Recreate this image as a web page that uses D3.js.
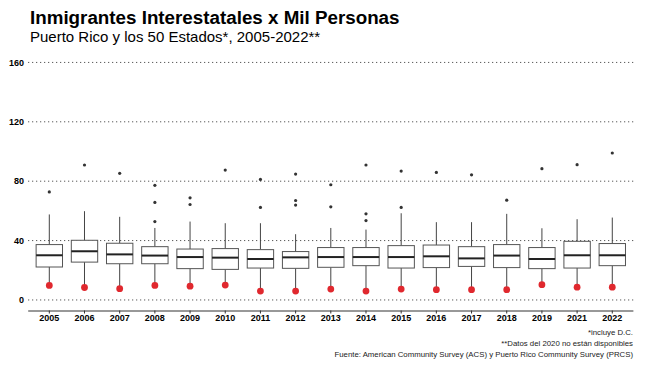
<!DOCTYPE html>
<html>
<head>
<meta charset="utf-8">
<script src="https://cdn.jsdelivr.net/npm/d3@7"></script>
<style>
  body { margin: 0; background: #fff; }
  svg { font-family: "Liberation Sans", Arial, Helvetica, sans-serif; }
</style>
</head>
<body>
<svg width="648" height="378"></svg>
<script>
var years = ["2005","2006","2007","2008","2009","2010","2011","2012","2013","2014","2015","2016","2017","2018","2019","2021","2022"];
var q1 =        [22.2, 25.5, 24.4, 24.4, 21.1, 20.6, 21.5, 21.3, 22.0, 23.1, 21.5, 21.8, 22.6, 21.8, 21.1, 21.5, 23.1];
var medians =   [30.1, 32.8, 30.7, 29.9, 28.9, 28.5, 27.6, 28.7, 28.9, 28.9, 28.9, 29.4, 28.0, 29.9, 27.6, 30.1, 30.1];
var q3 =        [37.3, 40.2, 38.2, 35.9, 34.3, 34.6, 33.9, 32.6, 35.3, 35.3, 36.6, 37.0, 35.9, 37.3, 35.3, 39.5, 38.0];
var whiskerHi = [57.6, 59.8, 56.0, 48.5, 52.8, 51.7, 51.7, 44.3, 48.5, 47.4, 58.4, 52.4, 52.4, 58.0, 48.3, 54.4, 55.5];
var puertoRico = [9.8, 8.4, 7.6, 9.8, 9.3, 10.0, 6.0, 6.0, 7.3, 6.0, 7.3, 6.9, 6.9, 6.9, 10.3, 8.6, 8.6];
var outliers = [
  [72.8], [90.9], [85.3], [52.8, 65.7, 77.2], [64.3, 68.8], [87.5],
  [62.3, 81.2], [63.9, 67.0, 84.8], [62.7, 77.6], [53.5, 58.0, 90.9],
  [62.3, 86.8], [85.9], [84.3], [67.2], [88.4], [91.1], [99.0]
];
var yTicks = [0, 40, 80, 120, 160];
var notes = ["*incluye D.C.", "**Datos del 2020 no están disponibles",
  "Fuente: American Community Survey (ACS) y Puerto Rico Community Survey (PRCS)"];

var svg = d3.select("svg");
var panelLeft = 28.2, panelRight = 633.4, panelTop = 55, panelBottom = 310.5;

// ggplot style: 0.6 unit expansion on each side of the discrete axis
var step = (panelRight - panelLeft) / (years.length + 0.2);
var x = d3.scaleBand()
  .domain(years)
  .range([panelLeft + 0.1 * step, panelRight - 0.1 * step]);

var y = d3.scaleLinear().domain([-7.1, 165]).range([panelBottom, panelTop]);

// title
svg.append("text").attr("x", 30).attr("y", 23.5)
  .style("font-size", "18.8px").style("font-weight", "bold")
  .text("Inmigrantes Interestatales x Mil Personas");
svg.append("text").attr("x", 30).attr("y", 41.5)
  .style("font-size", "15px")
  .text("Puerto Rico y los 50 Estados*, 2005-2022**");

// gridlines
svg.append("g").selectAll("line")
  .data(yTicks).enter().append("line")
    .attr("x1", panelLeft).attr("x2", 636)
    .attr("y1", function(d) { return y(d); })
    .attr("y2", function(d) { return y(d); })
    .attr("stroke", "#333").attr("stroke-width", 1)
    .attr("stroke-dasharray", "1,3");

svg.append("g").selectAll("text")
  .data(yTicks).enter().append("text")
    .attr("x", 24).attr("y", function(d) { return y(d) + 3.2; })
    .attr("text-anchor", "end")
    .style("font-size", "9px").style("font-weight", "bold")
    .text(function(d) { return d; });

// x axis
var xAxis = svg.append("g")
  .attr("transform", "translate(0," + panelBottom + ")")
  .call(d3.axisBottom(x).tickSize(3).tickSizeOuter(0));
xAxis.select(".domain").attr("stroke", "#333").attr("d", "M" + panelLeft + ",0.5H" + panelRight);
xAxis.selectAll(".tick line").attr("stroke", "#333");
xAxis.selectAll("text")
  .attr("dy", "0.45em")
  .style("font-size", "9px").style("font-weight", "bold")
  .style("font-family", "'Liberation Sans', Arial, sans-serif")
  .attr("fill", "#000");

// boxes
var bw = x.bandwidth() * 0.75;
var boxes = svg.append("g").selectAll("g")
  .data(years).enter().append("g")
    .attr("transform", function(d) { return "translate(" + (x(d) + x.bandwidth() / 2) + ",0)"; });

boxes.append("line")
  .attr("y1", function(d, i) { return y(whiskerHi[i]); })
  .attr("y2", function(d, i) { return y(q3[i]); })
  .attr("stroke", "#444").attr("stroke-width", 1);
boxes.append("line")
  .attr("y1", function(d, i) { return y(q1[i]); })
  .attr("y2", function(d, i) { return y(puertoRico[i]); })
  .attr("stroke", "#444").attr("stroke-width", 1);
boxes.append("rect")
  .attr("x", -bw / 2).attr("width", bw)
  .attr("y", function(d, i) { return y(q3[i]); })
  .attr("height", function(d, i) { return y(q1[i]) - y(q3[i]); })
  .attr("fill", "#fff").attr("stroke", "#555").attr("stroke-width", 1);
boxes.append("line")
  .attr("x1", -bw / 2).attr("x2", bw / 2)
  .attr("y1", function(d, i) { return y(medians[i]); })
  .attr("y2", function(d, i) { return y(medians[i]); })
  .attr("stroke", "#222").attr("stroke-width", 2);

boxes.selectAll("circle.out")
  .data(function(d, i) { return outliers[i]; })
  .enter().append("circle")
    .attr("class", "out")
    .attr("cy", function(v) { return y(v); })
    .attr("r", 1.6).attr("fill", "#333");

boxes.append("circle")
  .attr("cy", function(d, i) { return y(puertoRico[i]); })
  .attr("r", 3.4).attr("fill", "#e0282e");

// footnotes
svg.append("g").selectAll("text")
  .data(notes).enter().append("text")
    .attr("x", 633).attr("y", function(d, i) { return [334.5, 346, 357][i]; })
    .attr("text-anchor", "end")
    .style("font-size", "7.8px").attr("fill", "#222")
    .text(function(d) { return d; });
</script>
</body>
</html>
